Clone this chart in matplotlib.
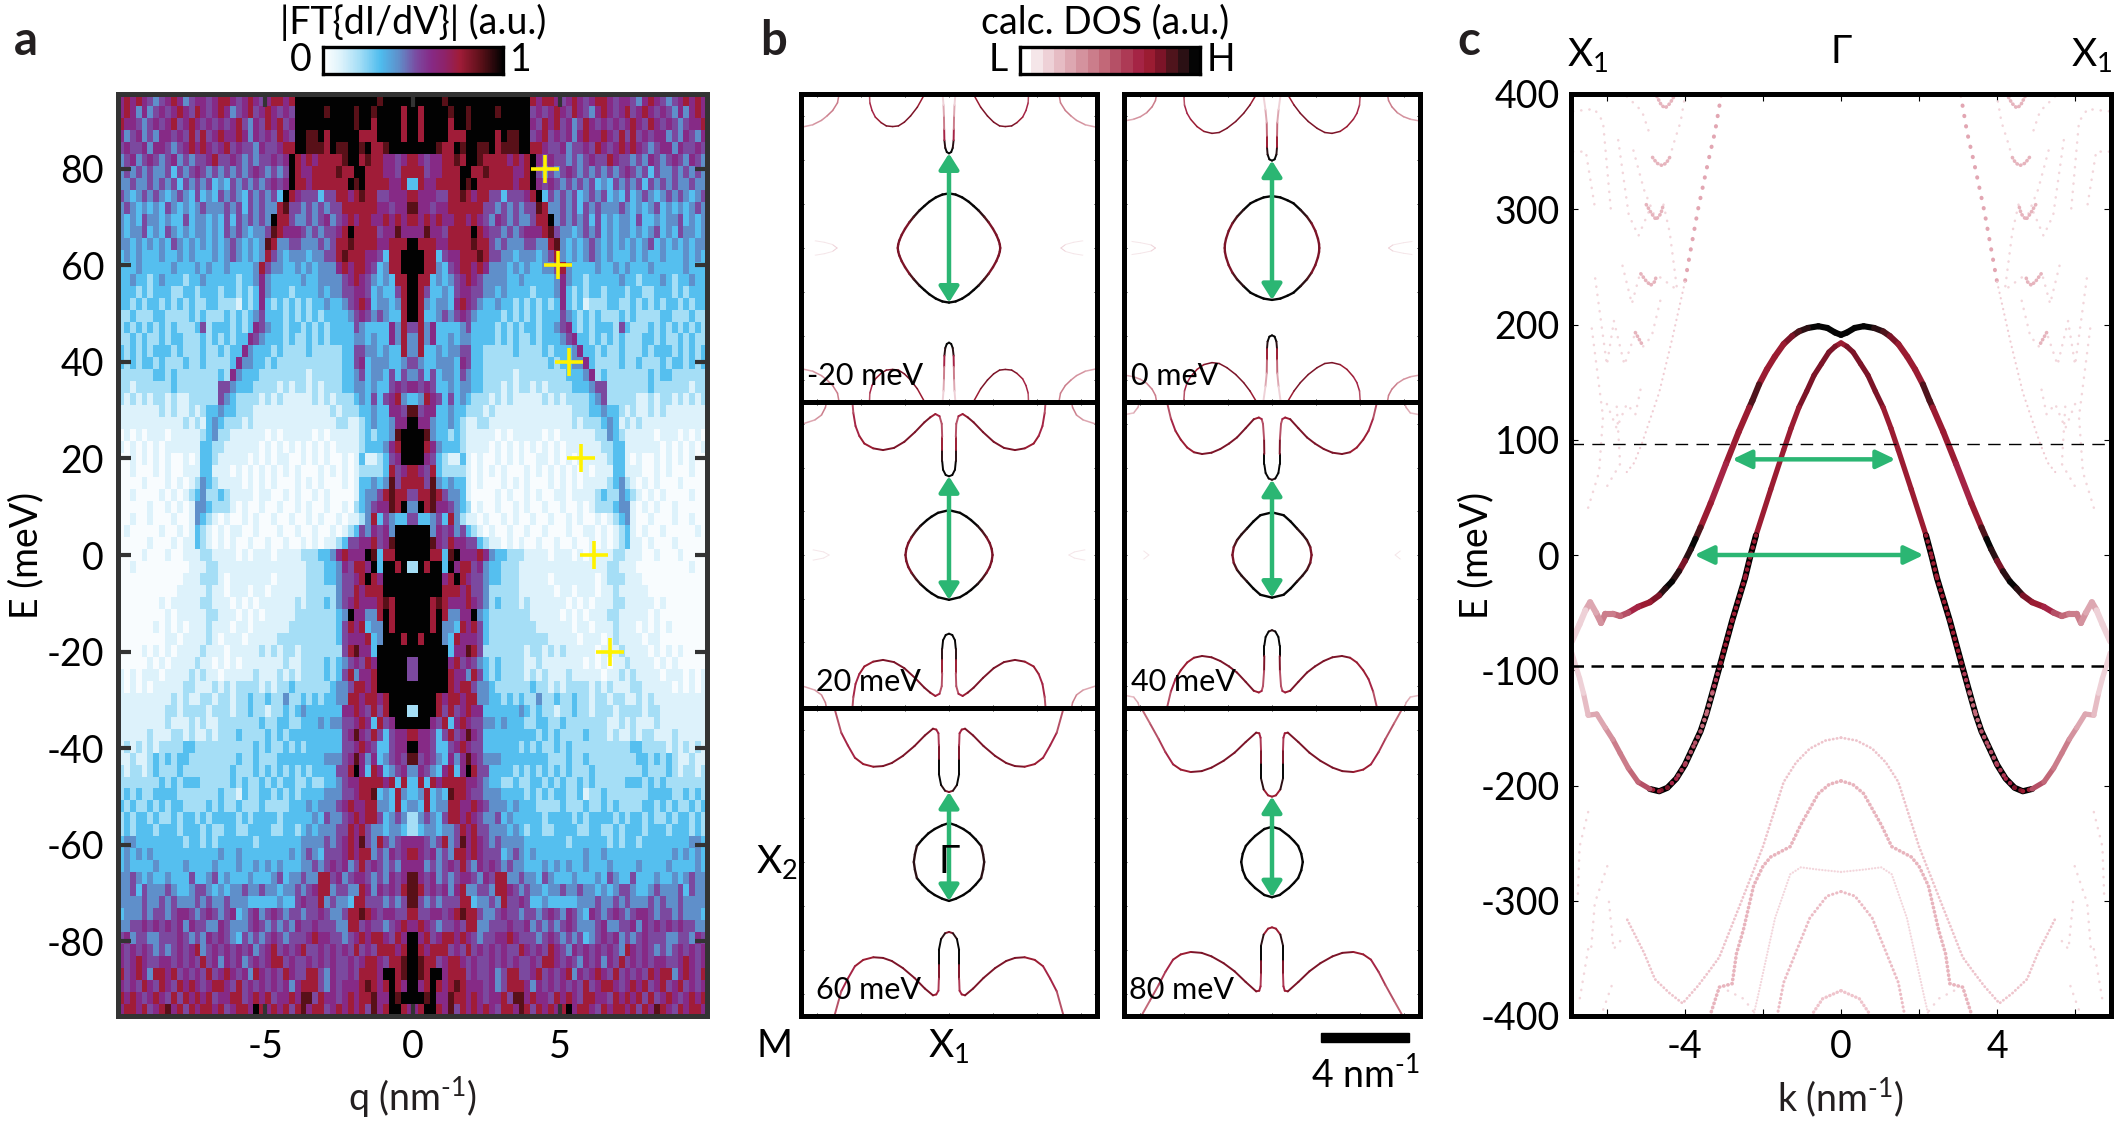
import numpy as np
import matplotlib
matplotlib.use('Agg')
import matplotlib.pyplot as plt
from matplotlib.collections import LineCollection
from matplotlib.colors import LinearSegmentedColormap, ListedColormap

plt.rcParams['font.family'] = ['Lato', 'Open Sans', 'DejaVu Sans']
plt.rcParams['mathtext.fontset'] = 'custom'
plt.rcParams['mathtext.rm'] = 'Lato'
plt.rcParams['mathtext.it'] = 'Lato'
plt.rcParams['mathtext.bf'] = 'Lato:bold'
plt.rcParams['axes.unicode_minus'] = False

ft_rows = [
    "99999899999999999999" "767765676567765665467654567676",
    "97999989989999899999" "565676576546765675676565464676",
    "97999979989999999999" "657675645765656567657656545667",
    "97999977799999798899" "567565646766765757565664546546",
    "99998779899889788899" "776556455657656767654566465565",
    "76566778799877776767" "965655454565576554546545654654",
    "77566777997787777667" "954545654545454565453544545454",
    "37667777989777777677" "965654545453435454535454544544",
    "76665577876775535556" "793545453454534353454345454345",
    "86656677777755454545" "587445453545444543434534343454",
    "76767667767654654544" "577945454535343443533434453434",
    "66866577779765545456" "667854434545343443434534354434",
    "97776677778775454445" "544784343454343434345343434344",
    "99773566777875544344" "434574343454343334343343334343",
    "99774356776764443434" "334457433334334343334333334333",
    "97734345676544443343" "333346433233333433233343233433",
    "97533435665544343333" "233346323233233323322333232333",
    "97434436765433433232" "323236323122233223232323323233",
    "97334545654333323232" "323335432323222323222233222322",
    "57463333453333232323" "323345632323332532223232323232",
    "47463343443333232322" "323334563323232322233232232322",
    "47334344553322222322" "223233346332322322232333232323",
    "54334443653322222222" "222323344632222322322232332323",
    "45353443543322222122" "222222333462322222223233222222",
    "65653343443322212122" "121222233345522222223222222122",
    "34765353432221212111" "112121222234522222112122121212",
    "85663343322212111111" "111111122233433212112121111111",
    "96643343211221111111" "111111121222343121211111111111",
    "99843323211111010111" "110101111112243211111011101010",
    "99764333211110101010" "101010111111223311111101010101",
    "99653211310100101010" "011010101111123310100101010100",
    "76573222210101010001" "010101010101113311100101000100",
    "77584343310100010101" "000101010111123421010100010000",
    "57787544310000101001" "010011011112322432101010000100",
    "49786654320100100101" "001001001012223441010100100000",
    "53345374211010010100" "100100101001012341001000100100",
    "99946564532101001001" "001000100110101231010010000010",
    "99986576655321101010" "010010010010101231101000100000",
    "99977389666764332221" "111011101011112211100100010000",
    "29799396775643322211" "111111111111122111000000000100",
    "99999679765543322211" "111011111110122211100000000000",
    "99999777675542222211" "111101101110112111110000000000",
    "99978766676542322212" "111111010101112211111010000000",
    "99979744669432222222" "111110101011122111110100000000",
    "99979443767532222222" "211111101101112111010101000000",
    "97999437666532222222" "222111110111012111101100000000",
    "99999936687522222221" "221212111110111211110101010000",
    "59999967565432322221" "121111111010101121111010100000",
    "59999976647532322221" "212111211111011212111101110101",
    "99999976775443222222" "322121222212121112211111010101",
    "99997677677443323232" "242232232212212211212111111111",
    "29997575676633333343" "232212232212221222212211111111",
    "99965736765544343332" "233223222222211212111211111111",
    "76653575686533333333" "323232222322212112122111211111",
    "96653356765533333323" "232232322222222223322221212121",
    "85654364686544433333" "333222322322222222332323211211",
    "46543673697553333232" "323232322232222222232223212212",
    "37376777766543322322" "332323223232222233323232222222",
    "34734387765544433332" "323233223122322222223333223232",
    "43734477667654443433" "322223222322323222233232322323",
    "24543577676544534333" "332333323233332323323223233232",
    "23443445767554443432" "332233332233223233323332333232",
    "66545745867654544443" "333333233333323233233333333443",
    "76564547767655534543" "433333333433433333333333434343",
    "66454565754656545443" "334343433433343333433334333343",
    "86564545665465774454" "435433343334354335333433434544",
    "87565646744554776545" "443445445443434554334544453544",
    "85454555773445475565" "334333334445445454445454454444",
    "75566567877544565545" "545654654365456545665455454443",
    "67654556577445556556" "454545654445644556465656565544",
    "96756776765455667655" "545654545345656454565554455465",
    "97677756575656565576" "565765465656565476565454565656",
    "98775677656556565655" "657765654656465756565665567656",
    "98799677756556457755" "675656746567657565657677467657",
    "96797678766656457776" "465656565756776567675675675656",
    "99896687767656675886" "766576765776657676757567656767",
    "67997685767676577687" "576767967765767767576876576776",
]
ft_levels = [.02, .1, .2, .31, .42, .52, .6, .76, .88, 1.0]
cross_q = [4.49, 4.93, 5.30, 5.72, 6.16, 6.70]
cross_E = [80, 60, 40, 20, 0, -20]

# b: constant energy contours, one quadrant each, (kx, ky, colour level 0-1)
panel_labels = ['-20 meV', '0 meV', '20 meV', '40 meV', '60 meV', '80 meV']
label_x = [.02, .023, .05, .023, .05, .017]
arrow_lo = [-2.48, -2.36, -2.05, -1.95, -1.77, -1.6]
arrow_hi = [4.3, 3.97, 3.6, 3.44, 3.18, 2.97]

pocket_m20 = [(0, 2.48, 1), (0.3, 2.43, 1), (0.6, 2.3, 1), (0.9, 2.1, 1), (1.12, 1.91, 1), (1.35, 1.7, .9),
              (1.6, 1.42, .85), (1.8, 1.17, .8), (2.0, .87, .75), (2.15, .6, .75), (2.26, .34, .75), (2.31, .16, .75),
              (2.33, 0, .75)]
finger_m20 = [(0, 4.3, 1), (.1, 4.36, 1), (.17, 4.55, 1), (.21, 4.9, .8), (.22, 5.4, .55), (.23, 6, .3),
              (.25, 6.5, .2), (.3, 7.1, .15)]
lobe_m20 = [(1.05, 7.1, .7), (1.44, 6.4, .75), (1.75, 6.0, .75), (2.03, 5.72, .75), (2.3, 5.55, .75), (2.56, 5.52, .75),
            (2.85, 5.55, .75), (3.09, 5.7, .75), (3.35, 5.95, .7), (3.5, 6.25, .65), (3.6, 6.6, .6), (3.62, 7.1, .5)]
corner_m20 = [(4.98, 7.1, .4), (5.07, 6.6, .4), (5.29, 6.25, .4), (5.55, 6.0, .35), (5.8, 5.8, .35), (6.2, 5.6, .3),
              (6.8, 5.47, .25)]
lens_m20 = [(5.09, 0, .14), (5.3, .16, .12), (5.67, .26, .08), (6.1, .33, .06), (6.8, .36, .04)]

pocket_0 = [(0, 2.36, 1), (.38, 2.3, 1), (.7, 2.17, 1), (.98, 2.03, 1), (1.3, 1.73, .95), (1.59, 1.42, .85),
            (1.8, 1.12, .8), (1.97, .78, .75), (2.09, .42, .75), (2.14, .18, .75), (2.15, 0, .75)]
finger_0 = [(0, 3.97, 1), (.12, 4.03, 1), (.2, 4.25, 1), (.23, 4.6, .85), (.23, 5.1, .6), (.24, 5.7, .3),
            (.3, 6.3, .2), (.41, 7.1, .15)]
lobe_0 = [(.64, 7.1, .7), (1.0, 6.5, .75), (1.29, 6.12, .75), (1.65, 5.75, .75), (2.05, 5.44, .75), (2.4, 5.25, .75),
          (2.73, 5.21, .75), (3.1, 5.3, .75), (3.41, 5.52, .7), (3.7, 5.85, .7), (3.86, 6.12, .65), (3.98, 6.5, .6),
          (4.02, 7.1, .5)]
corner_0 = [(5.23, 7.1, .4), (5.3, 6.7, .4), (5.45, 6.42, .4), (5.7, 6.15, .35), (5.98, 5.97, .35), (6.3, 5.85, .3),
            (6.8, 5.76, .25)]
lens_0 = [(5.3, 0, .14), (5.5, .14, .12), (5.98, .24, .08), (6.4, .3, .06), (6.8, .33, .04)]

pocket_20 = [(0, 2.05, 1), (.5, 1.93, 1), (.8, 1.75, 1), (1.0, 1.6, 1), (1.3, 1.33, .9), (1.5, 1.1, .85),
             (1.7, .82, .8), (1.85, .55, .75), (1.94, .28, .75), (1.98, 0, .75)]
finger_20 = [(0, 3.6, 1), (.15, 3.66, 1), (.27, 3.9, 1), (.31, 4.3, 1), (.31, 4.8, .85), (.31, 5.4, .6),
             (.33, 6.0, .5), (.43, 6.35, .6), (.62, 6.45, .7), (.85, 6.3, .75), (1.12, 6.07, .75), (1.55, 5.62, .75),
             (2.03, 5.18, .75), (2.5, 4.9, .75), (3.0, 4.8, .75), (3.45, 4.88, .75), (3.85, 5.1, .7), (4.08, 5.45, .7),
             (4.25, 5.9, .65), (4.35, 6.5, .6), (4.4, 7.1, .5)]
corner_20 = [(5.55, 7.1, .4), (5.62, 6.75, .4), (5.8, 6.4, .35), (6.1, 6.18, .3), (6.8, 5.95, .25)]
lens_20 = [(5.45, 0, .08), (5.7, .14, .07), (6.2, .24, .06), (6.8, .28, .04)]

pocket_40 = [(0, 1.95, 1), (.53, 1.82, 1), (.85, 1.53, 1), (1.14, 1.21, .95), (1.38, .95, .9), (1.59, .68, .85),
             (1.74, .36, .8), (1.8, 0, .8)]
finger_40 = [(0, 3.44, .8), (.15, 3.5, 1), (.29, 3.75, 1), (.35, 4.15, 1), (.35, 4.62, .9), (.36, 5.3, .6),
             (.41, 6.0, .5), (.47, 6.22, .6), (.6, 6.29, .7), (.83, 6.21, .75), (1.2, 5.8, .75), (1.59, 5.38, .75),
             (1.95, 5.1, .75), (2.35, 4.85, .75), (2.75, 4.68, .75), (3.18, 4.62, .75), (3.55, 4.7, .75),
             (3.86, 4.92, .7), (4.15, 5.28, .7), (4.39, 5.68, .7), (4.6, 6.25, .6), (4.8, 7.1, .5)]
corner_40 = [(5.98, 7.1, .3), (6.1, 6.75, .3), (6.29, 6.5, .25), (6.8, 6.4, .2)]
lens_40 = [(5.6, 0, .07), (5.85, .2, .06), (6.3, .28, .04), (6.8, .28, .03)]

pocket_60 = [(0, 1.77, 1), (.31, 1.67, 1), (.65, 1.5, 1), (.94, 1.3, 1), (1.22, 1.02, 1), (1.46, .73, .95),
             (1.55, .35, .9), (1.6, 0, .9)]
finger_60 = [(0, 3.18, .7), (.18, 3.24, .8), (.36, 3.5, 1), (.46, 4.0, 1), (.46, 4.7, 1), (.46, 5.3, .6),
             (.48, 5.85, .6), (.58, 6.02, .7), (.73, 6.06, .75), (1.1, 5.75, .75), (1.57, 5.27, .75), (2.1, 4.82, .8),
             (2.6, 4.5, .75), (3.0, 4.36, .75), (3.44, 4.33, .75), (3.9, 4.45, .7), (4.28, 4.74, .7), (4.6, 5.3, .65),
             (4.9, 5.88, .6), (5.24, 7.1, .5)]

pocket_80 = [(0, 1.6, 1), (.35, 1.5, 1), (.77, 1.18, 1), (1.0, .95, 1), (1.19, .73, 1), (1.33, .38, 1), (1.4, 0, 1)]
finger_80 = [(0, 2.97, .7), (.18, 3.03, .7), (.38, 3.3, .75), (.5, 3.8, 1), (.5, 4.5, 1), (.5, 5.1, .6),
             (.52, 5.65, .6), (.58, 5.85, .7), (.72, 5.88, .75), (1.2, 5.45, .75), (1.7, 4.97, .8), (2.2, 4.6, .8),
             (2.75, 4.29, .75), (3.2, 4.13, .75), (3.7, 4.09, .75), (4.15, 4.2, .7), (4.5, 4.44, .7), (4.85, 5.0, .6),
             (5.15, 5.58, .6), (5.55, 6.3, .5), (6.0, 7.1, .45)]

pockets = [pocket_m20, pocket_0, pocket_20, pocket_40, pocket_60, pocket_80]
fingers = [finger_m20, finger_0, finger_20, finger_40, finger_60, finger_80]
others = [[lobe_m20, corner_m20], [lobe_0, corner_0], [corner_20], [corner_40], [], []]
lenses = [lens_m20, lens_0, lens_20, lens_40]

# c: bands, left half (k, E, colour level), mirrored to k > 0
band_outer = [(0, 191, 1), (-.15, 193, 1), (-.35, 197, 1), (-.58, 198.5, 1), (-.85, 197, .95), (-1.08, 194, .85),
              (-1.25, 190, .8), (-1.47, 183, .75), (-1.7, 172, .72), (-1.9, 161, .72), (-2.1, 148, .72),
              (-2.27, 134, 1), (-2.35, 128, .7), (-2.62, 107, .7), (-2.95, 79, .68), (-3.34, 45, .68),
              (-3.6, 24, .7), (-3.73, 14, 1), (-3.85, 5, 1), (-4, -5, .75), (-4.15, -14, .85), (-4.33, -23, .95),
              (-4.5, -29, 1), (-4.66, -35, .85), (-4.9, -41, .75), (-5.2, -45, .72), (-5.45, -50, .6),
              (-5.66, -53, .5), (-5.85, -51, .45), (-6.04, -51, .4), (-6.15, -59, .35), (-6.28, -50, .3),
              (-6.43, -41, .3), (-6.55, -48, .2), (-6.7, -60, .15), (-6.9, -75, .1)]
band_inner = [(0, 184, .7), (-.15, 181, .75), (-.31, 176, .8), (-.5, 166, .75), (-.69, 156, .75), (-.88, 142, .75),
              (-1.08, 128, .75), (-1.28, 110, .72), (-1.47, 91, .72), (-1.8, 57, .72), (-2.18, 17, .72),
              (-2.33, -2, .72), (-2.46, -20, .72), (-2.79, -57, .72), (-3.12, -98, .72), (-3.3, -120, .5),
              (-3.45, -138, .4), (-3.6, -153, .5), (-3.78, -166, .55), (-4.0, -182, .55), (-4.22, -194, .6),
              (-4.45, -202, .7), (-4.66, -205, .8), (-4.9, -203, .6), (-5.2, -197, .5), (-5.45, -185, .45),
              (-5.66, -172, .4), (-5.85, -160, .35), (-6.04, -150, .3), (-6.26, -138, .25), (-6.48, -139, .25),
              (-6.6, -120, .2), (-6.7, -107, .15), (-6.9, -85, .1)]
band_low1 = [(0, -158.5), (-.4, -161), (-.8, -168), (-1.15, -180), (-1.47, -197), (-2.0, -253), (-2.57, -302),
             (-3.12, -349), (-3.4, -362), (-3.67, -374), (-4.06, -389), (-4.4, -380), (-4.77, -368), (-5.05, -345),
             (-5.32, -327), (-5.5, -315)]
band_low2 = [(0, -196), (-.3, -199), (-.58, -207), (-1.03, -234), (-1.3, -253), (-1.8, -262), (-2.0, -270),
             (-2.24, -287), (-2.5, -325), (-2.68, -346), (-2.79, -372), (-3.12, -375), (-3.34, -398)]
band_low3 = [(0, -275), (-.58, -273), (-1.03, -271), (-1.3, -277), (-1.69, -315), (-2.13, -383), (-2.24, -399)]
band_low4 = [(0, -292), (-.36, -296), (-.8, -315), (-1.47, -371), (-1.63, -399)]
band_low5 = [(0, -378), (-.47, -385), (-.75, -399)]
band_v_hi = [(-3.07, 399), (-3.23, 367), (-3.4, 342), (-3.67, 299), (-4, 237)]
band_v_lo = [(-4, 237), (-4.33, 187), (-4.66, 141), (-5.1, 97), (-5.3, 80), (-5.49, 72)]
faint_strong = [
    [(-4.72, 398), (-4.6, 390), (-4.5, 388), (-4.38, 392), (-4.28, 398)],
    [(-4.83, 345), (-4.72, 340), (-4.59, 338), (-4.48, 340), (-4.39, 345)],
    [(-4.99, 304), (-4.85, 296), (-4.74, 291), (-4.62, 296), (-4.55, 304)],
    [(-5.13, 244), (-5.0, 238), (-4.88, 234), (-4.78, 237), (-4.72, 243)],
    [(-5.27, 193), (-5.17, 187), (-5.07, 181)],
]
faint_dots = [
    [(-5.49, 398), (-5.1, 385), (-4.92, 367)],
    [(-4.39, 345), (-4.28, 358), (-4.11, 376), (-4, 398)],
    [(-5.32, 351), (-5.05, 317), (-4.74, 291)],
    [(-5.71, 360), (-5.44, 295), (-5.19, 277), (-4.9, 300)],
    [(-5.6, 251), (-5.36, 218), (-5.16, 243)],
    [(-5.82, 203), (-5.55, 165), (-5.27, 193)],
    [(-6.3, 240), (-6.0, 165), (-5.82, 203)],
    [(-4.55, 304), (-4.39, 280), (-4.2, 230), (-4.72, 243)],
    [(-5.07, 181), (-4.85, 190), (-4.6, 225)],
    [(-6.0, 131), (-5.75, 110), (-5.49, 131), (-5.27, 122), (-5.1, 150)],
    [(-5.99, 60), (-5.66, 79), (-5.75, 130)],
    [(-6.48, 41), (-6.2, 72), (-6.1, 120), (-6.4, 200)],
    [(-6.87, 385), (-6.32, 387), (-6.1, 376), (-5.9, 300)],
    [(-6.87, 350), (-6.54, 350), (-6.3, 300)],
    [(-6.48, -223), (-6.7, -253), (-6.75, -300)],
    [(-5.99, -270), (-6.31, -302), (-6.4, -340)],
    [(-5.66, -335), (-5.83, -342), (-5.95, -300)],
    [(-5.88, -374), (-6.1, -395)],
    [(-6.48, -342), (-6.7, -386)],
    [(-2.9, -378), (-2.5, -385), (-2.2, -398)],
]

W, H = 2114, 1121
ft_cmap = LinearSegmentedColormap.from_list('ft', [(0, '#ffffff'), (.1, '#dcf2fb'), (.2, '#a5def6'), (.32, '#4ebcee'),
                                                   (.42, '#5f8fca'), (.52, '#7b4aa0'), (.6, '#862a86'), (.68, '#8e2268'),
                                                   (.76, '#a01c38'), (.88, '#5a1018'), (1, '#020202')])
dos_cmap = ListedColormap(['#ffffff', '#f5e6e9', '#eed1d7', '#e6bcc4', '#dda7b1', '#d4929e', '#cb7d8b', '#c26878',
                           '#b55066', '#ad3a55', '#a52445', '#9b1c32', '#7c1428', '#4f141c', '#2b1014', '#050505'])
GREEN = '#2bb673'


def axes_px(fig, x0, y0, x1, y1):
    # pixel box (from the top left) -> axes
    return fig.add_axes([x0 / W, 1 - y1 / H, (x1 - x0) / W, (y1 - y0) / H])


def label(fig, x, y, s, size=27, ha='center', va='center', **kw):
    fig.text(x / W, 1 - y / H, s, fontsize=size, ha=ha, va=va, **kw)


def draw_pts(ax, pts, lw, sx=(1, -1), sy=(1, -1), **kw):
    # coloured polyline, mirrored in x and/or y
    p = np.array(pts, dtype=float)
    for a in sx:
        for b in sy:
            xy = np.column_stack([a * p[:, 0], b * p[:, 1]])
            segs = np.stack([xy[:-1], xy[1:]], axis=1)
            lc = LineCollection(segs, cmap=dos_cmap, norm=plt.Normalize(0, 1), linewidths=lw,
                                capstyle='round', **kw)
            lc.set_array((p[:-1, 2] + p[1:, 2]) / 2)
            ax.add_collection(lc)


def dotted(ax, pts, lw, gap, color):
    p = np.array(pts)
    for a in (1, -1):
        ax.plot(a * p[:, 0], p[:, 1], ls=(0, (.1, gap)), lw=lw, color=color, dash_capstyle='round')


def double_arrow(ax, x0, y0, x1, y1, lw, hl, hw):
    ax.annotate('', xy=(x1, y1), xytext=(x0, y0), zorder=6,
                arrowprops=dict(arrowstyle='<|-|>,head_length=%g,head_width=%g' % (hl, hw), color=GREEN,
                                lw=lw, shrinkA=0, shrinkB=0, mutation_scale=10))


fig = plt.figure(figsize=(W / 100, H / 100), dpi=100)

# --- a ---
ax = axes_px(fig, 118, 94, 707, 1016)
half = np.array([[ft_levels[int(c)] for c in (r + r[-1] * 50)[:50]] for r in ft_rows])
ft = np.hstack([half[:, ::-1], half])
q_edges = np.linspace(-10, 10, ft.shape[1] + 1)
E_edges = np.linspace(95.5, -95.5, ft.shape[0] + 1)
ax.pcolormesh(q_edges, E_edges, ft, cmap=ft_cmap, vmin=0, vmax=1, shading='flat', antialiased=False)
ax.plot(cross_q, cross_E, ls='none', marker='+', ms=20, mew=2.6, color='#fff200', zorder=5)
ax.set_xlim(-10, 10)
ax.set_ylim(-95.5, 95.5)
ax.set_xticks([-5, 0, 5])
ax.set_yticks(np.arange(-80, 81, 20))
ax.tick_params(direction='in', top=True, right=True, length=9, width=3, color='#333333',
               labelsize=27, pad=10)
ax.tick_params(axis='x', pad=9)
for s in ax.spines.values():
    s.set_linewidth(3.6)
    s.set_color('#333333')

cb = axes_px(fig, 323, 47, 503, 74)
cb.pcolormesh(np.linspace(0, 1, 257), [0, 1], np.linspace(0, 1, 256)[None, :], cmap=ft_cmap, vmin=0, vmax=1)
cb.set_xticks([])
cb.set_yticks([])
for s in cb.spines.values():
    s.set_linewidth(2.4)
label(fig, 413, 22, '|FT{dI/dV}| (a.u.)')
label(fig, 301, 60, '0')
label(fig, 521, 60, '1')
label(fig, 26, 555, 'E (meV)', rotation=90)
label(fig, 412, 1097, r'q (nm$^{\text{-1}}$)', color='#231f20')

# --- b ---
boxes = [(801, 94, 1097, 402), (1124, 94, 1420, 402),
         (801, 402, 1097, 708), (1124, 402, 1420, 708),
         (801, 708, 1097, 1016), (1124, 708, 1420, 1016)]
for i, box in enumerate(boxes):
    ax = axes_px(fig, *box)
    ax.set_xlim(-6.73, 6.73)
    ax.set_ylim(-7, 7)
    ax.set_xticks(np.arange(-6, 7, 2))
    ax.set_yticks(np.arange(-6, 7, 2))
    ax.tick_params(direction='in', top=True, right=True, length=2.5, width=.6, labelbottom=False, labelleft=False)
    draw_pts(ax, pockets[i], 1.7)
    draw_pts(ax, fingers[i], 1.4)
    for curve in others[i]:
        draw_pts(ax, curve, 1.1)
    if i < len(lenses):
        draw_pts(ax, lenses[i], .7)
    double_arrow(ax, 0, arrow_lo[i], 0, arrow_hi[i], 3.2, .95, .6)
    ax.text(label_x[i], 0.04, panel_labels[i], transform=ax.transAxes, fontsize=22, ha='left', va='bottom', zorder=7)
    for s in ax.spines.values():
        s.set_linewidth(3.6)
        s.set_zorder(8)
    if i == 4:
        ax.text(0, 0, 'Γ', fontsize=28, ha='center', va='center', zorder=7)

cb = axes_px(fig, 1020, 47, 1200, 74)
cb.pcolormesh(np.linspace(0, 1, 17), [0, 1], np.arange(16)[None, :], cmap=dos_cmap, vmin=0, vmax=15)
cb.set_xticks([])
cb.set_yticks([])
for s in cb.spines.values():
    s.set_linewidth(2.4)
label(fig, 1105, 22, 'calc. DOS (a.u.)')
label(fig, 998, 60, 'L')
label(fig, 1221, 60, 'H')
label(fig, 777, 862, 'X$_2$', size=28)
label(fig, 775, 1046, 'M', size=28)
label(fig, 949, 1046, 'X$_1$', size=28)
label(fig, 1365, 1075, r'4 nm$^{\text{-1}}$')
fig.add_artist(plt.Rectangle((1321 / W, 1 - 1042 / H), 88 / W, 9 / H, color='black', transform=fig.transFigure))

# --- c ---
ax = axes_px(fig, 1571, 94, 2111, 1016)
ax.set_xlim(-6.92, 6.92)
ax.set_ylim(-400, 400)

for curve in faint_dots:
    dotted(ax, curve, 1.8, 3.2, '#f2d6db')
for curve in faint_strong:
    dotted(ax, curve, 2.6, 1.0, '#e6b4bd')
dotted(ax, band_v_hi, 2.9, 2.5, '#e2a6b2')
dotted(ax, band_v_lo, 1.6, 2.4, '#f0ccd3')

dotted(ax, band_low1, 2.0, 1.3, '#eec4cc')
dotted(ax, band_low2, 2.6, 1.1, '#e8b4bd')
dotted(ax, band_low3, 1.6, 1.3, '#f3d6dc')
dotted(ax, band_low4, 2.2, 1.3, '#ecbcc5')
dotted(ax, band_low5, 2.4, 1.1, '#efc4cc')

draw_pts(ax, band_outer, 4.4, sy=(1,))
# inner band: solid near the top, outlined circles on the way down, soft tail
draw_pts(ax, band_inner[:11], 3.8, sy=(1,))
mid = np.array(band_inner[10:24])
for a in (1, -1):
    ax.plot(a * mid[:, 0], mid[:, 1], lw=4.4, color='black', solid_capstyle='round')
draw_pts(ax, band_inner[10:24], 3.2, sy=(1,), linestyles=[(0, (.05, 1.35))])
draw_pts(ax, band_inner[23:], 3.8, sy=(1,))

ax.axhline(96, color='black', lw=1.0, dashes=(9, 6), zorder=4)
ax.axhline(-96, color='black', lw=1.8, dashes=(5, 3), zorder=4)
double_arrow(ax, -2.79, 83, 1.4, 83, 3.2, 1.15, .55)
double_arrow(ax, -3.76, 0, 2.12, 0, 3.2, 1.15, .55)

ax.set_xticks([-4, 0, 4])
ax.set_xticks([-6, -2, 2, 6], minor=True)
ax.set_yticks(np.arange(-400, 401, 100))
ax.tick_params(which='both', direction='in', top=True, right=True, length=5, width=.8, labelsize=27)
ax.tick_params(axis='y', pad=8)
ax.tick_params(axis='x', pad=9)
for s in ax.spines.values():
    s.set_linewidth(3.6)
label(fig, 1476, 555, 'E (meV)', rotation=90)
label(fig, 1841, 1097, r'k (nm$^{\text{-1}}$)', color='#231f20')
label(fig, 1588, 55, 'X$_1$', size=28)
label(fig, 1841, 52, 'Γ', size=28)
label(fig, 2092, 55, 'X$_1$', size=28)

# panel letters
label(fig, 14, 55, 'a', size=34, ha='left', va='baseline', weight='bold', color='#231f20')
label(fig, 760, 55, 'b', size=34, ha='left', va='baseline', weight='bold', color='#231f20')
label(fig, 1457, 55, 'c', size=34, ha='left', va='baseline', weight='bold', color='#231f20')

fig.savefig('out.png', dpi=100)
